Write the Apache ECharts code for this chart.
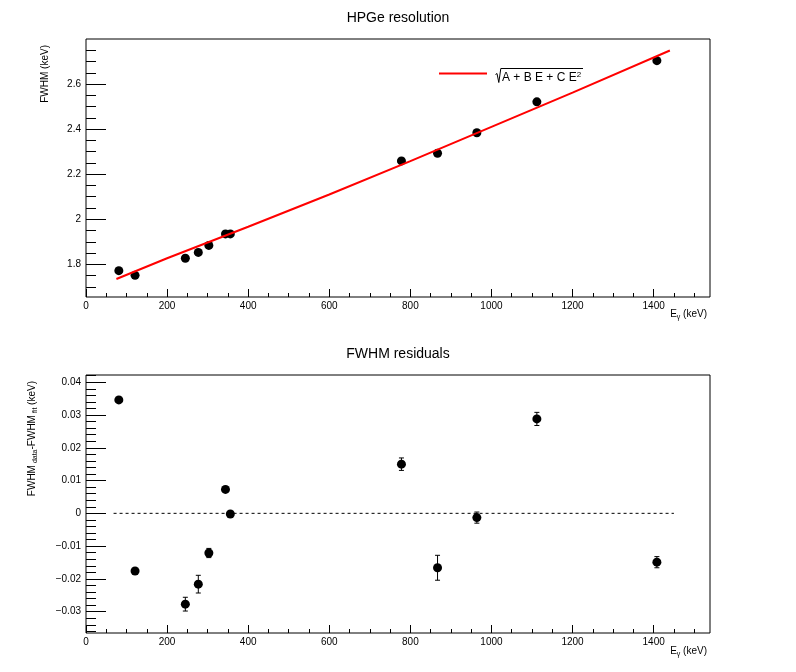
<!DOCTYPE html>
<html>
<head>
<meta charset="utf-8">
<script src="https://cdn.jsdelivr.net/npm/echarts@6/dist/echarts.min.js"></script>
<style>
  html, body { margin: 0; padding: 0; background: #fff; }
  #chart { width: 796px; height: 672px; }
</style>
</head>
<body>
<div id="chart"></div>
<script>
// gamma line energies (keV) and measured FWHM (keV)
const energies = [81, 121, 245, 277, 303, 344, 356, 778, 867, 964, 1112, 1408];
const fwhm = [1.772, 1.751, 1.827, 1.853, 1.884, 1.935, 1.935, 2.259, 2.293, 2.384, 2.521, 2.704];
const fwhmErr = [0.0008, 0.0008, 0.0021, 0.0027, 0.0014, 0.0008, 0.0008, 0.0019, 0.0038, 0.0017, 0.0020, 0.0017];
// data - fit
const residuals = [0.0346, -0.0176, -0.0277, -0.0216, -0.0121, 0.0073, -0.0002, 0.0150, -0.0166, -0.0013, 0.0288, -0.0149];

// fit curve sqrt(A + B E + C E^2)
const fitEnergy = [75, 200, 400, 600, 800, 1000, 1200, 1440];
const fitFwhm = [1.735, 1.827, 1.967, 2.110, 2.258, 2.410, 2.562, 2.749];

// dashed zero line in residual plot
const zeroLineE = [68, 1450];

// tick labels
const xTicks = [0, 200, 400, 600, 800, 1000, 1200, 1400];
const yTicksTop = [1.8, 2, 2.2, 2.4, 2.6];
const yTicksBottom = [-0.03, -0.02, -0.01, 0, 0.01, 0.02, 0.03, 0.04];

// axis ranges
const xRange = [0, 1539];
const yRangeTop = [1.655, 2.8];
const yRangeBottom = [-0.0365, 0.0422];

// minor ticks between the majors
function minorTicks(from, to, step, every) {
    const out = [];
    const k0 = Math.ceil(from / step - 1e-9), k1 = Math.floor(to / step + 1e-9);
    for (let k = k0; k <= k1; k++) {
        if (k % every !== 0) out.push(+(k * step).toFixed(6));
    }
    return out;
}

const FONT = 'Liberation Sans, Arial, Helvetica, sans-serif';
const chart = echarts.init(document.getElementById('chart'));

function xAxisPair(gridIndex) {
    return [{
        type: 'value', gridIndex: gridIndex, position: 'bottom',
        min: xRange[0], max: xRange[1],
        axisLine: { show: false, onZero: false },
        splitLine: { show: false },
        axisTick: { inside: true, length: 8, customValues: xTicks, lineStyle: { color: '#000' } },
        axisLabel: { customValues: xTicks, color: '#000', fontSize: 10, fontFamily: FONT, margin: 4,
            formatter: v => String(v) }
    }, {
        type: 'value', gridIndex: gridIndex, position: 'bottom',
        min: xRange[0], max: xRange[1],
        axisLine: { show: false, onZero: false },
        splitLine: { show: false },
        axisLabel: { show: false },
        axisTick: { inside: true, length: 4, customValues: minorTicks(xRange[0], xRange[1], 50, 4), lineStyle: { color: '#000' } }
    }];
}

function yAxisPair(gridIndex, range, ticks, minorStep, every, fmt) {
    return [{
        type: 'value', gridIndex: gridIndex, position: 'left',
        min: range[0], max: range[1],
        axisLine: { show: false, onZero: false },
        splitLine: { show: false },
        axisTick: { inside: true, length: 20, customValues: ticks, lineStyle: { color: '#000' } },
        axisLabel: { customValues: ticks, color: '#000', fontSize: 10, fontFamily: FONT, margin: 5, formatter: fmt }
    }, {
        type: 'value', gridIndex: gridIndex, position: 'left',
        min: range[0], max: range[1],
        axisLine: { show: false, onZero: false },
        splitLine: { show: false },
        axisLabel: { show: false },
        axisTick: { inside: true, length: 10, customValues: minorTicks(range[0], range[1], minorStep, every), lineStyle: { color: '#000' } }
    }];
}

// error bars with small end caps (only drawn when the bar sticks out of the marker)
function errorBar(params, api) {
    const x = api.value(0), y = api.value(1), e = api.value(2);
    const hi = api.coord([x, y + e]);
    const lo = api.coord([x, y - e]);
    const mid = api.coord([x, y]);
    const style = { stroke: '#000', lineWidth: 1 };
    const kids = [{ type: 'line', shape: { x1: hi[0], y1: hi[1], x2: lo[0], y2: lo[1] }, style: style }];
    if (mid[1] - hi[1] > 4.5) {
        kids.push({ type: 'line', shape: { x1: hi[0] - 2.5, y1: hi[1], x2: hi[0] + 2.5, y2: hi[1] }, style: style });
        kids.push({ type: 'line', shape: { x1: lo[0] - 2.5, y1: lo[1], x2: lo[0] + 2.5, y2: lo[1] }, style: style });
    }
    return { type: 'group', children: kids };
}

const plainFmt = v => String(v);
const minusFmt = v => String(v).replace('-', '\u2212');

let option = {
    animation: false,
    backgroundColor: '#fff',
    grid: [
        { left: 86, top: 39, width: 624, height: 258, show: true, borderColor: '#000', borderWidth: 1 },
        { left: 86, top: 375, width: 624, height: 258, show: true, borderColor: '#000', borderWidth: 1 }
    ],
    xAxis: [].concat(xAxisPair(0), xAxisPair(1)),
    yAxis: [].concat(
        yAxisPair(0, yRangeTop, yTicksTop, 0.05, 4, plainFmt),
        yAxisPair(1, yRangeBottom, yTicksBottom, 0.002, 5, minusFmt)
    ),
    series: [
        {
            type: 'custom', xAxisIndex: 0, yAxisIndex: 0, z: 2,
            renderItem: errorBar,
            data: energies.map((e, i) => [e, fwhm[i], fwhmErr[i]])
        },
        {
            type: 'scatter', xAxisIndex: 0, yAxisIndex: 0, z: 3,
            symbol: 'circle', symbolSize: 9,
            itemStyle: { color: '#000', opacity: 1 },
            data: energies.map((e, i) => [e, fwhm[i]])
        },
        {
            type: 'line', xAxisIndex: 0, yAxisIndex: 0, z: 4,
            showSymbol: false,
            lineStyle: { color: '#ff0000', width: 2 },
            data: fitEnergy.map((e, i) => [e, fitFwhm[i]])
        },
        {
            type: 'line', xAxisIndex: 2, yAxisIndex: 2, z: 1,
            showSymbol: false,
            lineStyle: { color: '#000', width: 1, type: [3, 3] },
            data: zeroLineE.map(e => [e, 0])
        },
        {
            type: 'custom', xAxisIndex: 2, yAxisIndex: 2, z: 2,
            renderItem: errorBar,
            data: energies.map((e, i) => [e, residuals[i], fwhmErr[i]])
        },
        {
            type: 'scatter', xAxisIndex: 2, yAxisIndex: 2, z: 3,
            symbol: 'circle', symbolSize: 9,
            itemStyle: { color: '#000', opacity: 1 },
            data: energies.map((e, i) => [e, residuals[i]])
        }
    ],
    graphic: [
        // titles
        { type: 'text', x: 398, y: 18, style: { text: 'HPGe resolution', fontSize: 14, fontFamily: FONT, fill: '#000', textAlign: 'center', textVerticalAlign: 'middle' } },
        { type: 'text', x: 398, y: 354, style: { text: 'FWHM residuals', fontSize: 14, fontFamily: FONT, fill: '#000', textAlign: 'center', textVerticalAlign: 'middle' } },
        // axis titles
        { type: 'text', x: 45, y: 45, rotation: Math.PI / 2, style: { text: 'FWHM (keV)', fontSize: 10, fontFamily: FONT, fill: '#000', textAlign: 'right', textVerticalAlign: 'middle' } },
        {
            type: 'text', x: 32, y: 381, rotation: Math.PI / 2,
            style: {
                text: '{a|FWHM}{s| data}{a|-FWHM}{s| fit}{a| (keV)}',
                fill: '#000', textAlign: 'right', textVerticalAlign: 'middle',
                rich: {
                    a: { fontSize: 10, fontFamily: FONT, lineHeight: 14 },
                    s: { fontSize: 7, fontFamily: FONT, lineHeight: 8, verticalAlign: 'bottom' }
                }
            }
        },
        {
            type: 'text', x: 707, y: 314,
            style: {
                text: '{a|E}{s|\u03b3}{a| (keV)}', fill: '#000', textAlign: 'right', textVerticalAlign: 'middle',
                rich: {
                    a: { fontSize: 10, fontFamily: FONT, lineHeight: 14 },
                    s: { fontSize: 7, fontFamily: FONT, lineHeight: 8, verticalAlign: 'bottom' }
                }
            }
        },
        {
            type: 'text', x: 707, y: 651,
            style: {
                text: '{a|E}{s|\u03b3}{a| (keV)}', fill: '#000', textAlign: 'right', textVerticalAlign: 'middle',
                rich: {
                    a: { fontSize: 10, fontFamily: FONT, lineHeight: 14 },
                    s: { fontSize: 7, fontFamily: FONT, lineHeight: 8, verticalAlign: 'bottom' }
                }
            }
        },
        // legend
        { type: 'line', shape: { x1: 439, y1: 73.5, x2: 487, y2: 73.5 }, style: { stroke: '#ff0000', lineWidth: 2 } },
        { type: 'polyline', shape: { points: [[495.5, 74.5], [497, 73.5], [498.8, 82.5], [500.8, 68.5], [583, 68.5]] }, style: { stroke: '#000', lineWidth: 1, fill: null } },
        {
            type: 'text', x: 502, y: 77.5,
            style: {
                text: '{a|A + B E + C E}{p|2}', fill: '#000', textAlign: 'left', textVerticalAlign: 'middle',
                rich: {
                    a: { fontSize: 12, fontFamily: FONT, lineHeight: 14 },
                    p: { fontSize: 8, fontFamily: FONT, lineHeight: 8, verticalAlign: 'top' }
                }
            }
        }
    ]
};

chart.setOption(option);
</script>
</body>
</html>
